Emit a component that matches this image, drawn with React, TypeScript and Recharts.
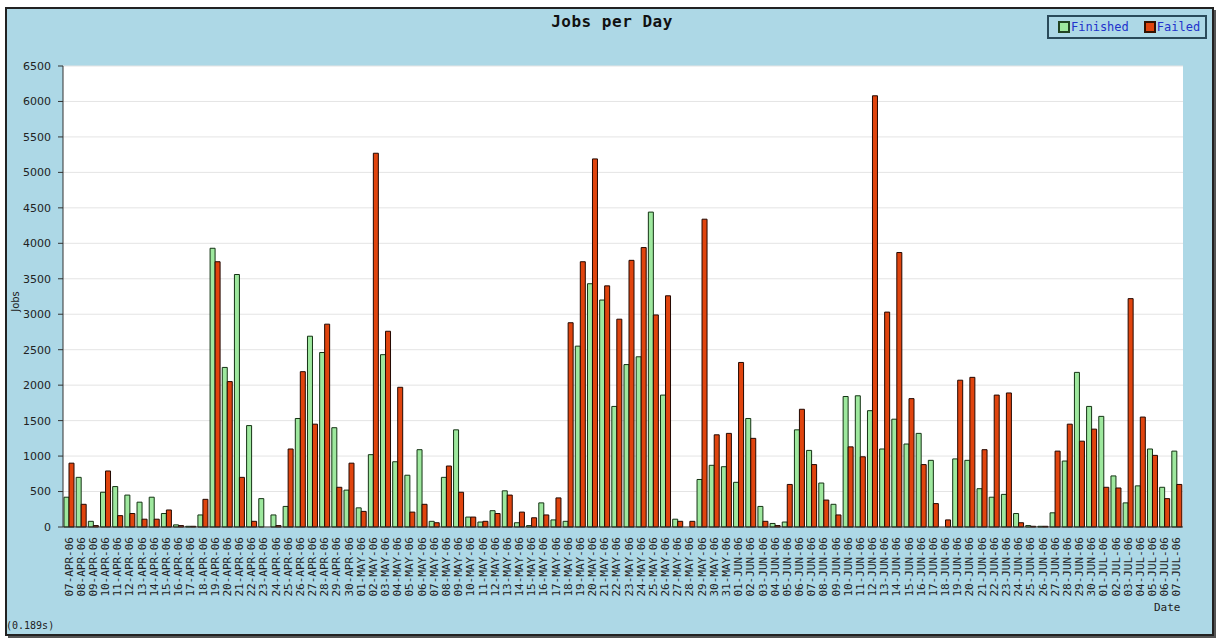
import React from "react";
import { BarChart, Bar, XAxis, YAxis, CartesianGrid, Legend } from "recharts";

const dates = [
  "07-APR-06","08-APR-06","09-APR-06","10-APR-06","11-APR-06","12-APR-06","13-APR-06","14-APR-06","15-APR-06","16-APR-06","17-APR-06","18-APR-06","19-APR-06","20-APR-06","21-APR-06","22-APR-06","23-APR-06","24-APR-06","25-APR-06","26-APR-06","27-APR-06","28-APR-06","29-APR-06","30-APR-06",
  "01-MAY-06","02-MAY-06","03-MAY-06","04-MAY-06","05-MAY-06","06-MAY-06","07-MAY-06","08-MAY-06","09-MAY-06","10-MAY-06","11-MAY-06","12-MAY-06","13-MAY-06","14-MAY-06","15-MAY-06","16-MAY-06","17-MAY-06","18-MAY-06","19-MAY-06","20-MAY-06","21-MAY-06","22-MAY-06","23-MAY-06","24-MAY-06","25-MAY-06","26-MAY-06","27-MAY-06","28-MAY-06","29-MAY-06","30-MAY-06","31-MAY-06",
  "01-JUN-06","02-JUN-06","03-JUN-06","04-JUN-06","05-JUN-06","06-JUN-06","07-JUN-06","08-JUN-06","09-JUN-06","10-JUN-06","11-JUN-06","12-JUN-06","13-JUN-06","14-JUN-06","15-JUN-06","16-JUN-06","17-JUN-06","18-JUN-06","19-JUN-06","20-JUN-06","21-JUN-06","22-JUN-06","23-JUN-06","24-JUN-06","25-JUN-06","26-JUN-06","27-JUN-06","28-JUN-06","29-JUN-06","30-JUN-06",
  "01-JUL-06","02-JUL-06","03-JUL-06","04-JUL-06","05-JUL-06","06-JUL-06","07-JUL-06"
];

const finished = [
  420,700,80,490,570,450,350,420,190,30,10,170,3930,2250,3560,1430,400,170,290,1530,2690,2460,1400,520,
  270,1020,2430,920,730,1090,80,700,1370,140,70,230,510,60,20,340,100,80,2550,3430,3200,1700,2290,2400,4440,1860,110,0,670,870,850,
  630,1530,290,50,70,1370,1080,620,320,1840,1850,1640,1100,1520,1170,1320,940,0,960,940,540,420,460,190,20,10,200,930,2180,1700,
  1560,720,340,580,1100,560,1070
];

const failed = [
  900,320,20,790,160,190,110,110,240,20,10,390,3740,2050,700,80,0,20,1100,2190,1450,2860,560,900,
  220,5270,2760,1970,210,320,60,860,490,140,80,190,450,210,130,170,410,2880,3740,5190,3400,2930,3760,3940,2990,3260,80,80,4340,1300,1320,
  2320,1250,80,20,600,1660,880,380,170,1130,990,6080,3030,3870,1810,880,330,100,2070,2110,1090,1860,1890,60,10,10,1070,1450,1210,1380,
  560,550,3220,1550,1010,400,600
];

const yTicks = [0,500,1000,1500,2000,2500,3000,3500,4000,4500,5000,5500,6000,6500];

const data = dates.map((d, i) => ({ date: d, finished: finished[i], failed: failed[i] }));

const GREEN = "#9ee89e";
const RED = "#e0440e";

const DateTick = (props: any) => {
  const { x, y, payload } = props;
  const ty = y + 2;
  return (
    <text
      x={x}
      y={ty}
      transform={`rotate(-90 ${x} ${ty})`}
      textAnchor="end"
      dominantBaseline="central"
      fontFamily="DejaVu Sans Mono"
      fontSize={11}
      fill="#222"
    >
      {payload.value}
    </text>
  );
};

const LegendBox = () => (
  <div
    style={{
      boxSizing: "border-box",
      width: 160,
      height: 24,
      border: "2px solid #2a4a5a",
      background: "#add8e6",
      padding: "0 4px 0 9px",
      display: "flex",
      alignItems: "center",
      gap: 15,
      fontFamily: "DejaVu Sans Mono",
      fontSize: 12,
      color: "#2233cc",
      lineHeight: "16px",
    }}
  >
    <span style={{ display: "flex", alignItems: "center" }}>
      <span style={{ display: "inline-block", boxSizing: "border-box", width: 12, height: 12, background: GREEN, border: "2px solid #224422", marginRight: 1 }} />
      Finished
    </span>
    <span style={{ display: "flex", alignItems: "center" }}>
      <span style={{ display: "inline-block", boxSizing: "border-box", width: 12, height: 12, background: RED, border: "2px solid #331100", marginRight: 1 }} />
      Failed
    </span>
  </div>
);

export default function App() {
  return (
    <div style={{ position: "absolute", left: 0, top: 0, width: 1216, height: 638, background: "#ffffff", overflow: "hidden" }}>
      <div
        style={{
          position: "absolute",
          left: 5,
          top: 7,
          width: 1205,
          height: 625,
          background: "#add8e6",
          border: "2px solid #222",
          boxShadow: "3px 3px 0 #555",
        }}
      />
      <div style={{ position: "absolute", left: 0, top: 0 }}>
        <BarChart
          width={1216}
          height={638}
          data={data}
          margin={{ top: 66, right: 33, bottom: 41, left: 13 }}
          barCategoryGap={1}
          barGap={0}
        >
          <CartesianGrid vertical={false} stroke="#e4e4e4" fill="#ffffff" />
          <XAxis
            dataKey="date"
            interval={0}
            height={70}
            tick={<DateTick />}
            tickLine={false}
            axisLine={{ stroke: "#333" }}
          />
          <YAxis
            domain={[0, 6500]}
            ticks={yTicks}
            interval={0}
            width={50}
            tickSize={5}
            tickMargin={7}
            tick={{ fontSize: 11, fill: "#222", fontFamily: "DejaVu Sans" }}
            tickLine={{ stroke: "#333" }}
            axisLine={{ stroke: "#333" }}
          />
          <Legend
            verticalAlign="middle"
            align="center"
            layout="horizontal"
            content={<LegendBox />}
            wrapperStyle={{ position: "absolute", top: 15, left: 1047, width: "auto" }}
          />
          <Bar dataKey="finished" name="Finished" fill={GREEN} stroke="#143314" strokeWidth={1} isAnimationActive={false} />
          <Bar dataKey="failed" name="Failed" fill={RED} stroke="#240800" strokeWidth={1} isAnimationActive={false} />
        </BarChart>
      </div>
      <div style={{ position: "absolute", left: 0, width: 1224, top: 12, textAlign: "center", fontFamily: "DejaVu Sans Mono", fontWeight: "bold", fontSize: 16, letterSpacing: 0.5, color: "#111" }}>
        Jobs per Day
      </div>
      <div style={{ position: "absolute", left: 2, top: 296, width: 26, textAlign: "center", transform: "rotate(-90deg)", fontFamily: "DejaVu Sans", fontSize: 10, color: "#222" }}>
        Jobs
      </div>
      <div style={{ position: "absolute", left: 1154, top: 601, fontFamily: "DejaVu Sans Mono", fontSize: 11, color: "#222" }}>
        Date
      </div>
      <div style={{ position: "absolute", left: 6, top: 620, fontFamily: "DejaVu Sans Mono", fontSize: 10, color: "#222" }}>
        (0.189s)
      </div>
    </div>
  );
}
